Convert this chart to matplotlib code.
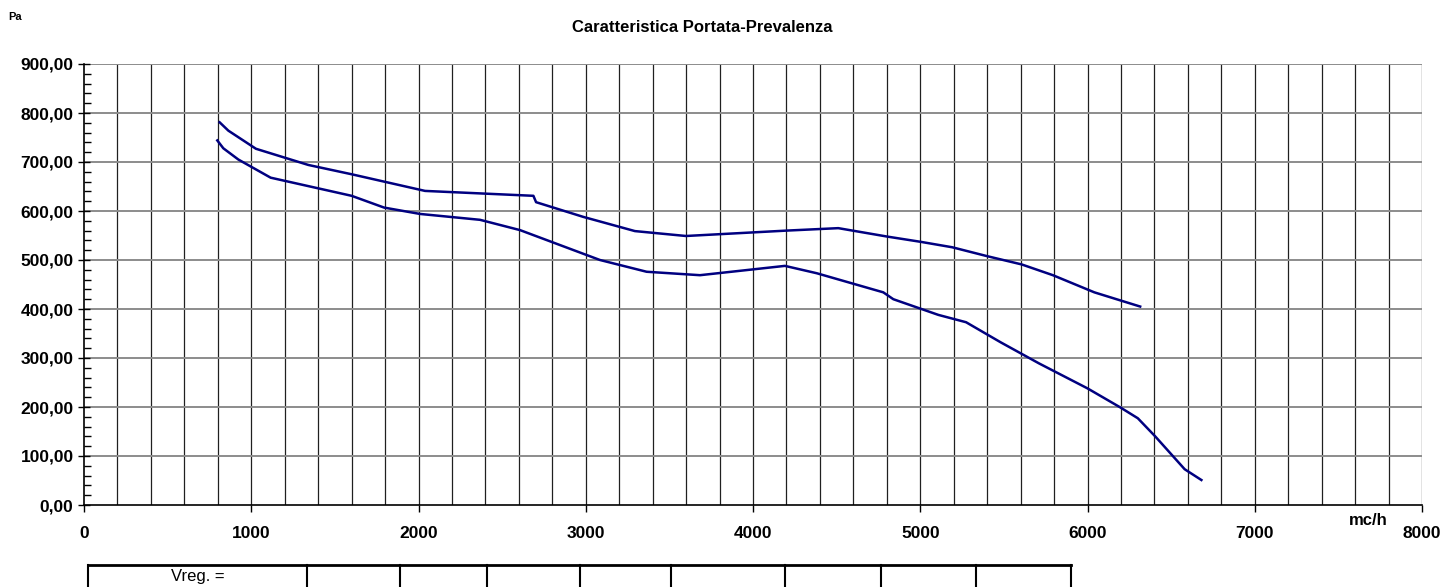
import matplotlib
matplotlib.use("Agg")
import matplotlib.pyplot as plt
from matplotlib.ticker import MultipleLocator, FuncFormatter
from matplotlib.lines import Line2D

plt.rcParams['font.family'] = ['Liberation Sans', 'DejaVu Sans']

# Data
upper_x = [811, 863, 1028, 1341, 1600, 2039, 2687, 2703, 2985, 3294, 3599, 4201, 4510,
           4799, 5004, 5191, 5398, 5606, 5793, 6041, 6315]
upper_y = [781, 764, 727, 694, 675, 641, 631, 618, 588, 559, 549, 560, 565,
           548, 537, 526, 508, 491, 469, 434, 405]
lower_x = [797, 833, 923, 1116, 1600, 1794, 2009, 2368, 2607, 3085, 3364, 3683, 4191, 4381,
           4779, 4839, 5108, 5274, 5481, 5710, 6000, 6197, 6301, 6405, 6581, 6681]
lower_y = [744, 728, 705, 668, 631, 607, 594, 582, 561, 500, 476, 469, 488, 473,
           434, 420, 388, 373, 332, 289, 238, 199, 177, 140, 73, 51]

title = "Caratteristica Portata-Prevalenza"
y_unit = "Pa"
x_unit = "mc/h"
table_label = "Vreg. ="

W, H = 1445, 587
fig = plt.figure(figsize=(W / 100, H / 100), dpi=100)
ax = fig.add_axes([84 / W, 1 - 505 / H, (1422 - 84) / W, (505 - 64) / H])

line_color = '#000080'
ax.plot(upper_x, upper_y, color=line_color, lw=1.8, solid_joinstyle='round')
ax.plot(lower_x, lower_y, color=line_color, lw=1.8, solid_joinstyle='round')

ax.set_xlim(0, 8000)
ax.set_ylim(0, 900)

ax.xaxis.set_major_locator(MultipleLocator(1000))
ax.xaxis.set_minor_locator(MultipleLocator(200))
ax.yaxis.set_major_locator(MultipleLocator(100))
ax.yaxis.set_minor_locator(MultipleLocator(20))
ax.yaxis.set_major_formatter(FuncFormatter(lambda v, p: f"{v:.2f}".replace('.', ',')))
ax.xaxis.set_major_formatter(FuncFormatter(lambda v, p: f"{int(v)}"))

# gridlines
ax.grid(False)
for xv in range(200, 8001, 200):
    ax.axvline(xv, color='#202020', lw=0.9, zorder=0)
for yv in range(100, 901, 100):
    ax.axhline(yv, color='#8c8c8c', lw=1.4, zorder=0)

for s in ['top', 'right']:
    ax.spines[s].set_visible(False)
ax.spines['left'].set_linewidth(1.2)
ax.spines['bottom'].set_linewidth(1.2)

ax.tick_params(axis='y', which='major', direction='inout', length=9, width=1, pad=3)
ax.tick_params(axis='y', which='minor', direction='in', length=5, width=1)
ax.tick_params(axis='x', which='major', direction='out', length=5, width=1, pad=10)
ax.tick_params(axis='x', which='minor', length=0)
for lab in ax.get_xticklabels() + ax.get_yticklabels():
    lab.set_fontweight('bold')
    lab.set_fontsize(12.5)

fig.text(702 / W, 1 - 32 / H, title, ha='center', va='baseline', fontsize=12, fontweight='bold')
fig.text(8 / W, 1 - 20 / H, y_unit, ha='left', va='baseline', fontsize=8, fontweight='bold')
fig.text(1368 / W, 1 - 525 / H, x_unit, ha='center', va='baseline', fontsize=12, fontweight='bold')

# table below chart
col_edges = [88, 307, 400, 487, 580, 671, 785, 881, 976, 1071]
top_y = 565
fig.add_artist(Line2D([col_edges[0] / W, col_edges[-1] / W], [1 - top_y / H, 1 - top_y / H],
                      transform=fig.transFigure, color='black', lw=2))
for cx in col_edges:
    fig.add_artist(Line2D([cx / W, cx / W], [1 - top_y / H, 0],
                          transform=fig.transFigure, color='black', lw=1.5))
fig.text((col_edges[0] + col_edges[1]) / 2 / W, 1 - 581 / H, table_label,
         ha='center', va='baseline', fontsize=12)

fig.savefig('out.png', dpi=100)
